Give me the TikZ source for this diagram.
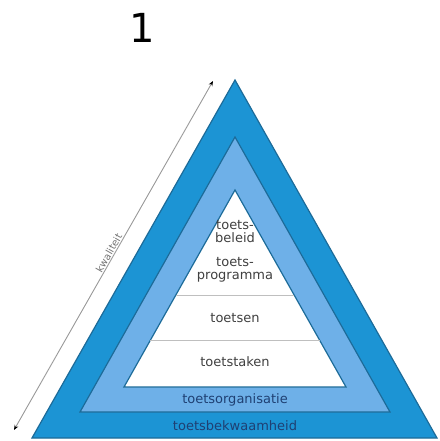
\documentclass[tikz,border=0pt]{standalone}
\usepackage{fontspec}
\setmainfont{DejaVu Sans}
\usetikzlibrary{arrows.meta}
\newlength{\du}
\setlength{\du}{1pt}

\begin{document}
\begin{tikzpicture}[x=1\du,y=-1\du,
  band/.style={draw=edgeblue,line width=1.2\du,line join=miter},
  divider/.style={draw=black!25,line width=1\du},
  layertext/.style={font=\fontsize{13}{13}\selectfont,text=black!75,align=center,inner sep=0pt},
  bandtext/.style={font=\fontsize{13}{13}\selectfont,text=navytext,inner sep=0pt}]
\definecolor{outerblue}{rgb}{0.110000, 0.580000, 0.830000}
\definecolor{lightblue}{rgb}{0.430000, 0.690000, 0.910000}
\definecolor{edgeblue}{rgb}{0.110000, 0.420000, 0.600000}
\definecolor{navytext}{rgb}{0.120000, 0.250000, 0.450000}
\useasboundingbox (0,0) rectangle (439,441);
% outer triangle
\fill[outerblue] (32,438)--(235,80)--(437,438)--cycle;
\draw[band] (32,438)--(235,80)--(437,438)--cycle;
% middle triangle
\fill[lightblue] (80,412)--(235,137)--(390,412)--cycle;
\draw[band] (80,412)--(235,137)--(390,412)--cycle;
% inner triangle
\fill[white] (124,387)--(235,190)--(346,387)--cycle;
\draw[band] (124,387)--(235,190)--(346,387)--cycle;
\draw[divider] (175.8,295)--(294.2,295);
\draw[divider] (150.4,340)--(319.6,340);
% setfont left to latex
\node[layertext] (beleid) at (235,232) {toets-\\beleid};
\node[layertext] (programma) at (235,270) {toets-\\programma};
\node[layertext] (toetsen) at (235,318) {toetsen};
\node[layertext] (taken) at (235,362) {toetstaken};
\node[bandtext] (organisatie) at (235,400) {toetsorganisatie};
\node[bandtext] (bekwaamheid) at (235,426) {toetsbekwaamheid};
\node[font=\fontsize{40}{40}\selectfont,inner sep=0pt] (nummer) at (142,28) {1};
% kwaliteit arrow
\coordinate (voet) at (14,430);
\coordinate (top) at (213,81);
\draw[black!40,line width=0.9pt,{Stealth[length=5pt,width=4pt,black]}-{Stealth[length=5pt,width=4pt,black]}] (voet) -- (top)
  node[pos=0.5,sloped,above,inner sep=1pt,font=\fontsize{10}{10}\selectfont,text=black!55] (kwaliteit) {kwaliteit};
\end{tikzpicture}
\end{document}
